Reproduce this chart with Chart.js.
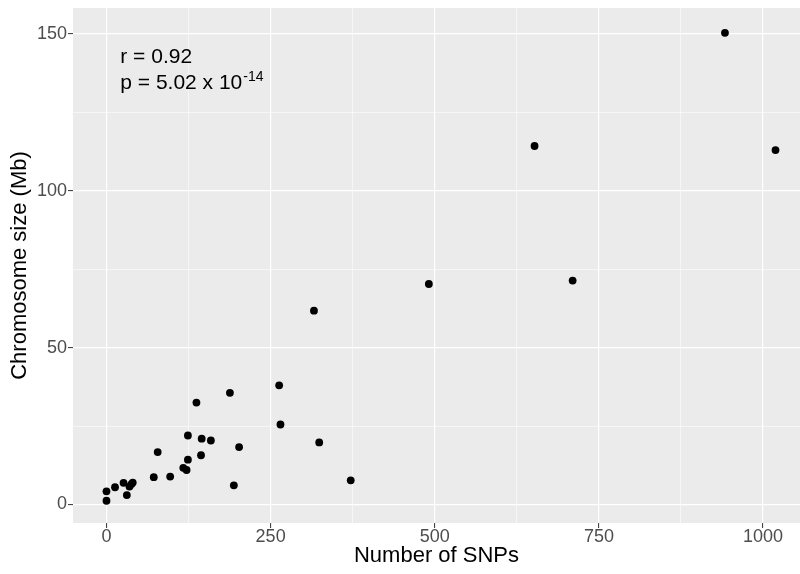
<!DOCTYPE html>
<html>
<head>
<meta charset="utf-8">
<title>Chromosome size vs SNPs</title>
<script src="https://cdn.jsdelivr.net/npm/chart.js@4.4.1/dist/chart.umd.min.js"></script>
<style>
  html, body { margin: 0; padding: 0; background: #fff; overflow: hidden; }
  #wrap { width: 800px; height: 574px; }
</style>
</head>
<body>
<div id="wrap"><canvas id="snpPlot" width="800" height="574"></canvas></div>
<script>
'use strict'

// one point per chromosome
const snpCount = [0, 0, 13, 26, 31, 35, 38, 40, 72, 78, 97, 117, 122, 124, 124, 137, 144, 145, 159, 188, 194, 202, 263, 265, 316, 324, 372, 491, 652, 710, 942, 1019]
const chromSize = [1.2, 4.2, 5.5, 6.9, 3.0, 5.7, 6.5, 7.0, 8.7, 16.7, 8.9, 11.7, 11.0, 14.3, 22.0, 32.5, 15.7, 21.0, 20.4, 35.6, 6.1, 18.3, 38.0, 25.5, 61.8, 19.8, 7.7, 70.3, 114.3, 71.4, 150.4, 113.0]

const xMajor = [0, 250, 500, 750, 1000]
const xMinor = [125, 375, 625, 875]
const yMajor = [0, 50, 100, 150]
const yMinor = [25, 75, 125]

const rValue = 'r = 0.92'
const pValue = 'p = 5.02 x 10'
const pExp = '-14'

const FONT = '"Liberation Sans", Arial, Helvetica, sans-serif'
Chart.defaults.font.family = FONT

let pts = []
for (let i = 0; i < snpCount.length; i++) {
  pts.push({x: snpCount[i], y: chromSize[i]})
}

function tickList(major, minor) {
  return major.concat(minor).sort((a, b) => a - b).map(v => ({value: v}))
}

function gridOpts(major) {
  return {
    color: '#ffffff',
    lineWidth: c => major.includes(c.tick.value) ? 1.2 : 0.55,
    tickColor: c => major.includes(c.tick.value) ? '#333333' : 'rgba(0,0,0,0)',
    tickWidth: 1,
    tickLength: 5,
    drawTicks: true
  }
}

// grey ggplot-style panel behind the points
const panelBg = {
  id: 'panelBg',
  beforeDraw(chart) {
    const a = chart.chartArea
    const ctx = chart.ctx
    ctx.save()
    ctx.fillStyle = '#EBEBEB'
    ctx.fillRect(a.left, a.top, a.right - a.left, a.bottom - a.top)
    ctx.restore()
  }
}

// correlation text, anchored in data units
const corrText = {
  id: 'corrText',
  afterDraw(chart) {
    const ctx = chart.ctx
    const xs = chart.scales.x
    const ys = chart.scales.y
    const x0 = xs.getPixelForValue(21)
    ctx.save()
    ctx.fillStyle = '#000'
    ctx.textAlign = 'left'
    ctx.textBaseline = 'middle'
    ctx.font = '21px ' + FONT
    ctx.fillText(rValue, x0, ys.getPixelForValue(142.6))
    const py = ys.getPixelForValue(134.2)
    ctx.fillText(pValue, x0, py)
    const w = ctx.measureText(pValue).width
    ctx.font = '14px ' + FONT
    ctx.fillText(pExp, x0 + w + 1, py - 6)
    ctx.restore()
  }
}

const config = {
  type: 'scatter',
  data: {
    datasets: [{
      data: pts,
      backgroundColor: '#000',
      borderColor: '#000',
      pointRadius: 3.9,
      pointBorderWidth: 0
    }]
  },
  options: {
    responsive: false,
    animation: false,
    devicePixelRatio: 1,
    layout: {autoPadding: false, padding: {top: 8, left: 0, right: 0, bottom: 0}},
    plugins: {legend: {display: false}, tooltip: {enabled: false}},
    scales: {
      x: {
        type: 'linear',
        min: -51,
        max: 1056.3,
        afterBuildTicks: s => { s.ticks = tickList(xMajor, xMinor) },
        afterFit: s => { s.height = 51; s.paddingLeft = 0; s.paddingRight = 0 },
        grid: gridOpts(xMajor),
        border: {display: false},
        ticks: {
          color: '#4D4D4D',
          font: {size: 18, lineHeight: 1},
          padding: 0,
          maxRotation: 0,
          autoSkip: false,
          callback: v => xMajor.includes(v) ? String(v) : ''
        },
        title: {
          display: true,
          text: 'Number of SNPs',
          color: '#000',
          font: {size: 22, lineHeight: 1.2},
          padding: {top: 0, bottom: 5}
        }
      },
      y: {
        type: 'linear',
        min: -5.9,
        max: 158.3,
        afterBuildTicks: s => { s.ticks = tickList(yMajor, yMinor) },
        afterFit: s => { s.width = 73; s.paddingTop = 0; s.paddingBottom = 0 },
        grid: gridOpts(yMajor),
        border: {display: false},
        ticks: {
          color: '#4D4D4D',
          font: {size: 18, lineHeight: 1},
          padding: 1,
          autoSkip: false,
          callback: v => yMajor.includes(v) ? String(v) : ''
        },
        title: {
          display: true,
          text: 'Chromosome size (Mb)',
          color: '#000',
          font: {size: 22, lineHeight: 1.2},
          padding: {top: 7, bottom: 0}
        }
      }
    }
  },
  plugins: [panelBg, corrText]
}

let snpChart = new Chart(document.querySelector('#snpPlot'), config)
</script>
</body>
</html>
